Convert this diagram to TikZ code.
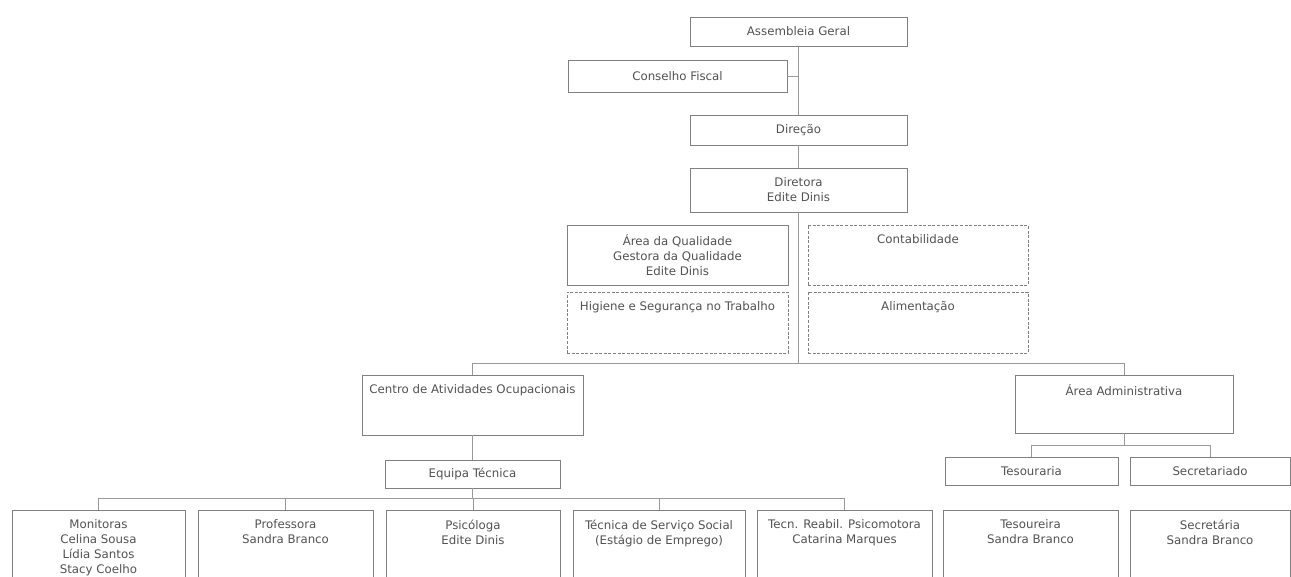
\documentclass[tikz,border=0pt]{standalone}
\usepackage{fontspec}
\setmainfont{DejaVu Sans}
\usetikzlibrary{fit}
\begin{document}
\begin{tikzpicture}[x=1pt,y=-1pt,
  box/.style={draw=black!50, line width=0.9pt, inner sep=0pt},
  dbox/.style={box, dash pattern=on 3pt off 1.6pt, line width=0.9pt},
  lbl/.style={text=black!68, font=\fontsize{11.8}{15}\selectfont, align=center, inner sep=0pt},
  conn/.style={draw=black!40, line width=0.7pt}]
\useasboundingbox (0,0) rectangle (1291,577);
\clip (0,0) rectangle (1291,577);
\newcommand\orgbox[6]{\path (#3,#4) coordinate (#2-nw) (#5,#6) coordinate (#2-se);
  \node[#1, fit=(#2-nw)(#2-se)] (#2) {};}
\newcommand\toptext[2]{\node[lbl, anchor=north] (#1-t) at ([yshift=-10pt]#1.north) {#2};}
\newcommand\midtext[2]{\node[lbl] (#1-t) at (#1) {#2};}
% boxes
\orgbox{box}{ag}{690}{17}{907}{46}
\orgbox{box}{cf}{568}{60}{787}{92}
\orgbox{box}{dir}{690}{115}{907}{145}
\orgbox{box}{dta}{690}{168}{907}{212}
\orgbox{box}{aq}{567}{225}{788}{285}
\orgbox{dbox}{hst}{567}{292}{788}{353}
\orgbox{dbox}{cont}{808}{225}{1028}{285}
\orgbox{dbox}{ali}{808}{292}{1028}{353}
\orgbox{box}{cao}{362}{375}{583}{435}
\orgbox{box}{aa}{1015}{375}{1233}{433}
\orgbox{box}{eq}{385}{460}{560}{488}
\orgbox{box}{tes}{945}{457}{1118}{485}
\orgbox{box}{sec}{1130}{457}{1290}{485}
\orgbox{box}{mon}{12}{510}{185}{600}
\orgbox{box}{prof}{198}{510}{373}{600}
\orgbox{box}{psi}{386}{510}{560}{600}
\orgbox{box}{tss}{573}{510}{745}{600}
\orgbox{box}{trp}{757}{510}{932}{600}
\orgbox{box}{tsr}{943}{510}{1118}{600}
\orgbox{box}{scr}{1130}{510}{1290}{600}
% texts
\midtext{ag}{Assembleia Geral}
\midtext{cf}{Conselho Fiscal}
\midtext{dir}{Direção}
\midtext{dta}{Diretora\\Edite Dinis}
\midtext{aq}{Área da Qualidade\\Gestora da Qualidade\\Edite Dinis}
\toptext{hst}{Higiene e Segurança no Trabalho}
\toptext{cont}{Contabilidade}
\toptext{ali}{Alimentação}
\toptext{cao}{Centro de Atividades Ocupacionais}
\toptext{aa}{Área Administrativa}
\midtext{eq}{Equipa Técnica}
\midtext{tes}{Tesouraria}
\midtext{sec}{Secretariado}
\toptext{mon}{Monitoras\\Celina Sousa\\Lídia Santos\\Stacy Coelho}
\toptext{prof}{Professora\\Sandra Branco}
\toptext{psi}{Psicóloga\\Edite Dinis}
\toptext{tss}{Técnica de Serviço Social\\(Estágio de Emprego)}
\toptext{trp}{Tecn. Reabil. Psicomotora\\Catarina Marques}
\toptext{tsr}{Tesoureira\\Sandra Branco}
\toptext{scr}{Secretária\\Sandra Branco}
% connectors
\draw[conn] (ag.south) -- (dir.north);
\draw[conn] (cf.east) -- (cf.east -| ag.south);
\draw[conn] (dir.south) -- (dta.north);
\coordinate (j1) at (0,363);
\draw[conn] (dta.south) -- (dta.south |- j1);
\draw[conn] (cao.north) -- (cao.north |- j1) -| (aa.north);
\draw[conn] (cao.south) -- (eq.north);
\coordinate (j2) at (0,498);
\draw[conn] (eq.south) -- (eq.south |- j2);
\draw[conn] (mon.north) -- (mon.north |- j2) -| (trp.north);
\draw[conn] (prof.north) -- (prof.north |- j2);
\draw[conn] (psi.north) -- (psi.north |- j2);
\draw[conn] (tss.north) -- (tss.north |- j2);
\coordinate (j3) at (0,445);
\draw[conn] (aa.south) -- (aa.south |- j3);
\draw[conn] (tes.north) -- (tes.north |- j3) -| (sec.north);
\end{tikzpicture}
\end{document}
